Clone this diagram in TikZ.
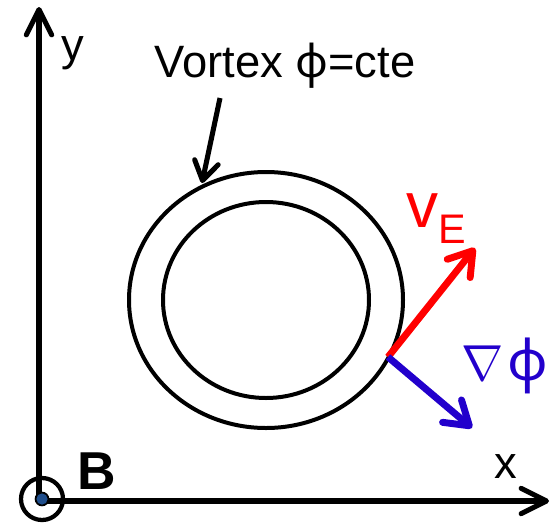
\documentclass[tikz,border=0pt]{standalone}
\usepackage{fontspec}
\usepackage{graphicx}
\setmainfont{Liberation Sans}
\newfontfamily\symfont{Noto Sans}
\usetikzlibrary{arrows.meta,shapes.geometric}
\definecolor{vred}{RGB}{255,0,0}
\definecolor{vblue}{RGB}{34,0,204}
\definecolor{dotblue}{RGB}{31,78,140}
\tikzset{
  axis/.style={line width=3.8pt, -{Straight Barb[round,length=19pt,width=19pt]}},
  ring/.style={line width=3pt},
  vec/.style={line width=5.2pt, -{Straight Barb[round,length=17pt,width=22pt]}},
  lbl/.style={inner sep=0pt, anchor=base, font=\fontsize{34}{34}\selectfont},
}
\begin{document}
\begin{tikzpicture}[x=0.75pt,y=-0.75pt]
\useasboundingbox (0,0) rectangle (553,525);
% axes
\coordinate (O) at (39,501);
\coordinate (ytip) at (39,7);
\coordinate (xtip) at (549,501);
\draw[axis] (O) -- (ytip);
\draw[axis] (O) -- (xtip);
\node[lbl] (ylab) at (73,60) {y};
\node[lbl] (xlab) at (506,478) {x};
% B symbol
\node[draw, circle, line width=3.2pt, inner sep=0pt, minimum size=31.5pt] (bcirc) at (42,499) {};
\fill[black] (bcirc.center) circle (5.5pt);
\fill[dotblue] (bcirc.center) circle (4.2pt);
\node[inner sep=0pt, anchor=base, font=\bfseries\fontsize{40}{40}\selectfont] (blab) at (97,489) {B};
% vortex
\node[draw, ring, ellipse, minimum width=205.5pt, minimum height=192pt, inner sep=0pt] (outer) at (266,300) {};
\node[draw, ring, ellipse, minimum width=154.5pt, minimum height=147pt, inner sep=0pt] (inner) at (266,300) {};
\node[lbl] (vlab) at (285,77) {Vortex {\symfont ϕ}=cte};
\coordinate (vstart) at (220,98);
\coordinate (vend) at (202,183);
\draw[line width=3.8pt, -{Straight Barb[round,length=14pt,width=18pt]}] (vstart) -- (vend);
% vectors
\coordinate (P) at (388,357);
\coordinate (vetip) at (475,248);
\coordinate (gtip) at (472,428);
\draw[vec, vred] (P) -- (vetip);
\draw[vec, vblue] (P) -- (gtip);
\node[inner sep=0pt, anchor=base, text=vred, font=\fontsize{48}{48}\selectfont] (ve) at (422,227) {v};
\node[inner sep=0pt, anchor=base, text=vred, font=\fontsize{31}{31}\selectfont] (vesub) at (452,243) {E};
\node[inner sep=0pt, anchor=base west, text=vblue] (grad) at (461,380) {\scalebox{3.8}{$\nabla$}\hspace{3pt}{\symfont\fontsize{42}{42}\selectfont ϕ}};
\end{tikzpicture}
\end{document}
